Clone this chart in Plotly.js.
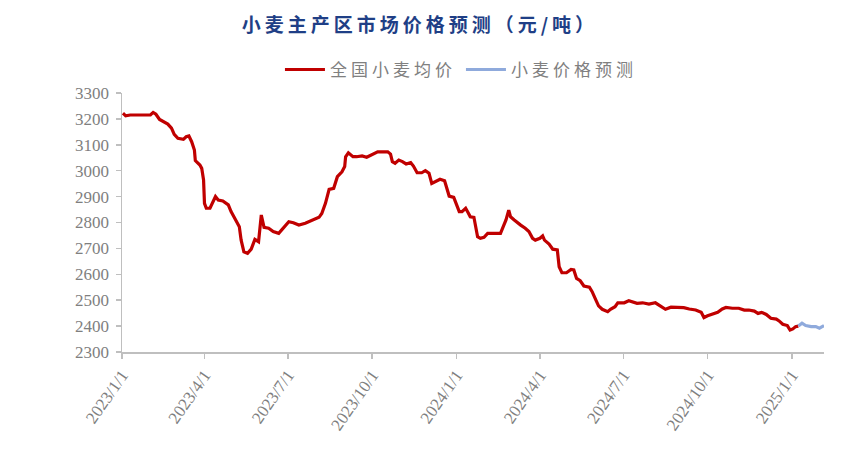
<!DOCTYPE html>
<html><head><meta charset="utf-8">
<script src="https://cdn.plot.ly/plotly-3.0.1.min.js"></script>
<style>
body{margin:0;background:#fff;}
#chart{width:864px;height:453px;}
.gtitle{letter-spacing:4px;}
.legendtext{letter-spacing:4px;}
</style></head>
<body><div id="chart"></div>
<script>
const actualDates = ["2023-01-02","2023-01-05","2023-01-10","2023-01-21","2023-02-01","2023-02-04","2023-02-07","2023-02-11","2023-02-17","2023-02-20","2023-02-24","2023-02-27","2023-03-03","2023-03-09","2023-03-12","2023-03-15","2023-03-18","2023-03-21","2023-03-22","2023-03-27","2023-03-29","2023-03-31","2023-04-01","2023-04-03","2023-04-07","2023-04-10","2023-04-13","2023-04-16","2023-04-21","2023-04-27","2023-04-30","2023-05-04","2023-05-09","2023-05-11","2023-05-14","2023-05-18","2023-05-22","2023-05-26","2023-05-30","2023-06-02","2023-06-05","2023-06-10","2023-06-15","2023-06-21","2023-06-26","2023-07-02","2023-07-07","2023-07-13","2023-07-20","2023-07-27","2023-08-04","2023-08-07","2023-08-11","2023-08-15","2023-08-20","2023-08-24","2023-08-29","2023-09-01","2023-09-02","2023-09-05","2023-09-10","2023-09-14","2023-09-20","2023-09-25","2023-10-01","2023-10-07","2023-10-13","2023-10-18","2023-10-21","2023-10-23","2023-10-26","2023-10-30","2023-11-03","2023-11-07","2023-11-12","2023-11-15","2023-11-19","2023-11-24","2023-11-28","2023-12-02","2023-12-05","2023-12-09","2023-12-14","2023-12-19","2023-12-22","2023-12-24","2023-12-29","2024-01-02","2024-01-04","2024-01-07","2024-01-11","2024-01-14","2024-01-16","2024-01-20","2024-01-22","2024-01-24","2024-01-27","2024-01-31","2024-02-04","2024-02-11","2024-02-18","2024-02-21","2024-02-24","2024-02-27","2024-02-29","2024-03-04","2024-03-07","2024-03-11","2024-03-16","2024-03-20","2024-03-24","2024-03-27","2024-04-01","2024-04-04","2024-04-06","2024-04-11","2024-04-15","2024-04-20","2024-04-22","2024-04-25","2024-04-30","2024-05-05","2024-05-08","2024-05-11","2024-05-15","2024-05-19","2024-05-25","2024-05-28","2024-06-01","2024-06-04","2024-06-08","2024-06-14","2024-06-17","2024-06-22","2024-06-25","2024-07-02","2024-07-07","2024-07-13","2024-07-16","2024-07-22","2024-07-29","2024-08-05","2024-08-11","2024-08-16","2024-08-22","2024-08-31","2024-09-05","2024-09-11","2024-09-18","2024-09-24","2024-09-27","2024-10-01","2024-10-06","2024-10-12","2024-10-17","2024-10-21","2024-10-28","2024-11-04","2024-11-10","2024-11-15","2024-11-21","2024-11-25","2024-11-29","2024-12-04","2024-12-09","2024-12-15","2024-12-18","2024-12-22","2024-12-27","2024-12-30","2025-01-02","2025-01-05","2025-01-08"];
const actualPrice = [3222,3212,3215,3215,3215,3225,3218,3198,3185,3180,3164,3140,3125,3121,3131,3134,3112,3080,3039,3022,3009,2964,2874,2855,2855,2880,2900,2887,2883,2868,2842,2816,2784,2732,2687,2681,2697,2735,2726,2829,2781,2778,2765,2758,2778,2803,2799,2790,2797,2807,2820,2835,2874,2928,2932,2977,2996,3016,3054,3069,3054,3054,3057,3052,3061,3073,3073,3073,3064,3035,3029,3041,3035,3026,3031,3018,2992,2992,3000,2990,2951,2958,2967,2961,2925,2902,2897,2861,2842,2842,2855,2836,2822,2820,2784,2745,2739,2743,2758,2758,2758,2784,2810,2848,2822,2810,2803,2790,2778,2765,2739,2732,2739,2748,2732,2717,2697,2694,2629,2606,2606,2619,2617,2584,2575,2555,2550,2533,2501,2478,2465,2456,2465,2475,2490,2490,2498,2490,2488,2490,2485,2490,2478,2465,2473,2473,2471,2466,2462,2453,2433,2440,2445,2453,2466,2472,2469,2469,2462,2462,2458,2449,2453,2445,2430,2427,2420,2407,2402,2385,2389,2398,2400];
const forecastDates = ["2025-01-08","2025-01-12","2025-01-16","2025-01-22","2025-01-27","2025-01-31","2025-02-03","2025-02-05"];
const forecastPrice = [2400,2411,2402,2398,2398,2392,2398,2402];
const seriesNames = ["全国小麦均价","小麦价格预测"];
const tickLabels = ["2023/1/1","2023/4/1","2023/7/1","2023/10/1","2024/1/1","2024/4/1","2024/7/1","2024/10/1","2025/1/1"];
const yTicks = [2300,2400,2500,2600,2700,2800,2900,3000,3100,3200,3300];
const titleText = "小麦主产区市场价格预测（元/吨）";

const tickVals = tickLabels.map(s => s.split('/').map((p,i)=> i===0?p:p.padStart(2,'0')).join('-'));
const axisFont = {family:"Liberation Serif, Times New Roman, serif", size:17, color:"#7f7f7f"};
const traces = [
  {x:actualDates, y:actualPrice, name:seriesNames[0], type:"scatter", mode:"lines",
   line:{color:"#c00000", width:3.2}},
  {x:forecastDates, y:forecastPrice, name:seriesNames[1], type:"scatter", mode:"lines",
   line:{color:"#8faadc", width:3.2}}
];
const layout = {
  width:864, height:453,
  margin:{l:122, r:40, t:93, b:101},
  paper_bgcolor:"#fff", plot_bgcolor:"#fff",
  title:{text:"<b>"+titleText+"</b>", x:0.486, xanchor:"center", y:0.945, yanchor:"middle",
    font:{family:"Noto Sans CJK SC", size:19, color:"#1f3f86"}},
  showlegend:true,
  legend:{orientation:"h", x:0.225, xanchor:"left", y:1.089, yanchor:"middle",
    font:{family:"Noto Sans CJK SC", size:17, color:"#808080"}, itemwidth:40, tracegroupgap:0},
  xaxis:{type:"date", range:["2023-01-01","2025-02-05"], tickvals:tickVals, ticktext:tickLabels,
    tickangle:-55, ticks:"outside", ticklen:5, tickwidth:1.5, tickcolor:"#bfbfbf",
    showline:true, linecolor:"#bfbfbf", linewidth:1.5, showgrid:false, zeroline:false,
    tickfont:axisFont},
  yaxis:{range:[2300,3300], tickvals:yTicks, ticks:"outside", ticklen:5, tickwidth:1.5, tickcolor:"#bfbfbf",
    showline:true, linecolor:"#bfbfbf", linewidth:1.5, showgrid:false, zeroline:false,
    tickfont:axisFont, ticklabelstandoff:3}
};
Plotly.newPlot("chart", traces, layout, {displayModeBar:false, staticPlot:true});
</script></body></html>
